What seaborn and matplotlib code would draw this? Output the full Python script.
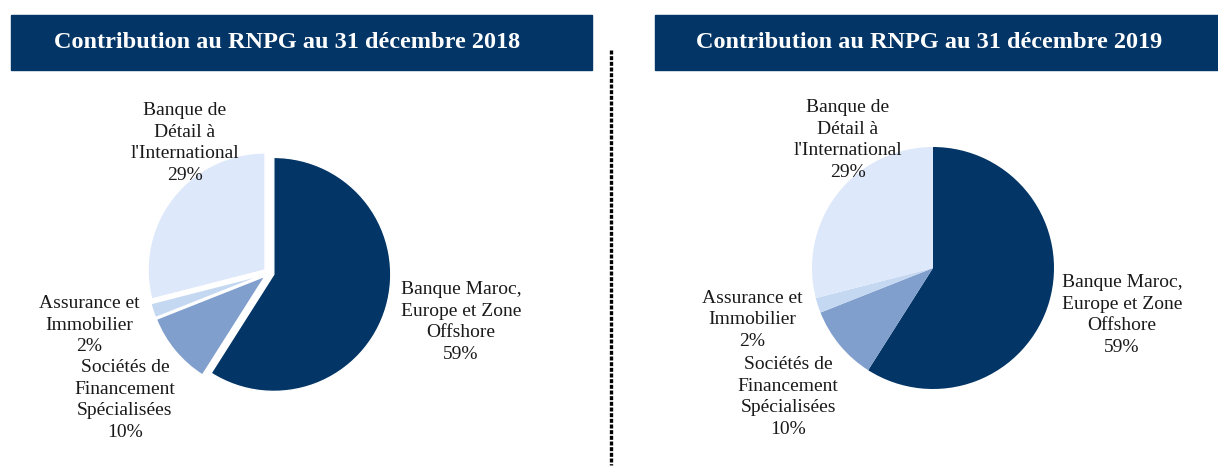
import matplotlib
matplotlib.use("Agg")
import matplotlib.pyplot as plt
import seaborn as sns
from matplotlib.patches import Rectangle

# data
segments = ["Banque Maroc,\nEurope et Zone\nOffshore",
            "Sociétés de\nFinancement\nSpécialisées",
            "Assurance et\nImmobilier",
            "Banque de\nDétail à\nl'International"]
share_2018 = [59, 10, 2, 29]
share_2019 = [59, 10, 2, 29]
titles = ["Contribution au RNPG au 31 décembre 2018",
          "Contribution au RNPG au 31 décembre 2019"]

colors = ["#033566", "#819FCD", "#C5D8F1", "#DEE8FB"]

W, H = 1218, 468


def main():
    sns.set_theme(style="white")
    plt.rcParams["font.family"] = ["Liberation Serif", "DejaVu Serif"]

    fig = plt.figure(figsize=(W / 100, H / 100), dpi=100)
    ax = fig.add_axes([0, 0, 1, 1])

    # 2018 pie, slightly exploded (explode is in data units = pixels here)
    ax.pie(share_2018, colors=colors, startangle=90, counterclock=False,
           center=(269, H - 273), radius=117,
           explode=[5] * len(share_2018),
           wedgeprops=dict(edgecolor="white", linewidth=1))
    # 2019 pie
    ax.pie(share_2019, colors=colors, startangle=90, counterclock=False,
           center=(933, H - 268), radius=121,
           wedgeprops=dict(edgecolor="none"))

    ax.set_xlim(0, W)
    ax.set_ylim(0, H)
    ax.set_aspect("equal")
    ax.axis("off")

    # title boxes
    for (x0, x1), tx, t in zip([(11, 592), (655, 1218)], [287, 929], titles):
        ax.add_patch(Rectangle((x0, H - 70), x1 - x0, 55, color="#033566",
                               zorder=3, clip_on=False))
        ax.text(tx, H - 43, t, color="white", fontsize=17.5,
                fontweight="bold", ha="center", va="center", zorder=4)

    # dotted separator
    ax.plot([611, 611], [H - 50, H - 465], color="black", linestyle=(0, (1.2, 0.5)),
            linewidth=2.4)

    # labels (positions of the text blocks)
    pos_2018 = [(461, 322), (125, 400), (89, 325), (185, 143)]
    pos_2019 = [(1122, 315), (788, 397), (752, 320), (848, 140)]
    for shares, pos in [(share_2018, pos_2018), (share_2019, pos_2019)]:
        for name, v, (x, y) in zip(segments, shares, pos):
            ax.text(x, H - y, f"{name}\n{v}%", fontsize=14, ha="center",
                    va="center", linespacing=1.35, color="#1a1a1a")

    fig.savefig("out.png", dpi=100)


if __name__ == "__main__":
    main()
